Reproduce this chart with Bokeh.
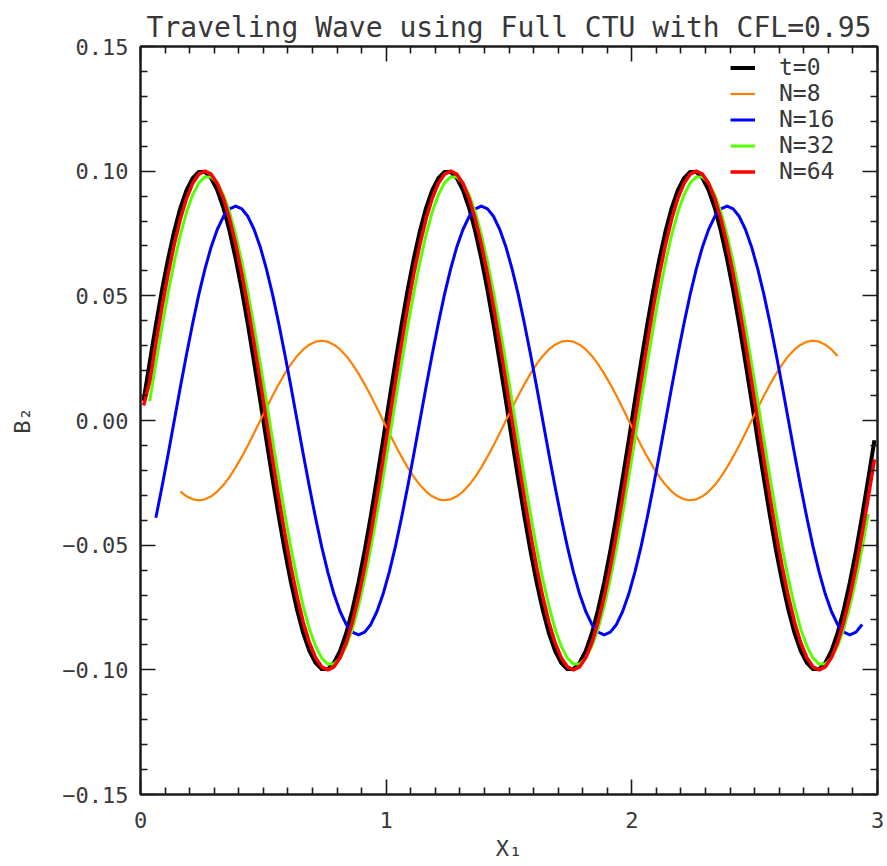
import numpy as np
from bokeh.plotting import figure
from bokeh.models import (Range1d, LinearAxis, FixedTicker, Legend, LegendItem,
                          ColumnDataSource, CustomJSTickFormatter)
from bokeh.embed import file_html
from bokeh.resources import INLINE

FONT = "DejaVu Sans Mono"

title_text = "Traveling Wave using Full CTU with CFL=0.95"
x_title = "X₁"
y_title = "B₂"
series_labels = ["t=0", "N=8", "N=16", "N=32", "N=64"]
series_colors = ["#000000", "#ff7f00", "#0000ff", "#55ff00", "#ff0000"]
x_tick_values = [0, 1, 2, 3]
x_tick_labels = ["0", "1", "2", "3"]
y_tick_values = [-0.15, -0.10, -0.05, 0.0, 0.05, 0.10, 0.15]
y_tick_labels = ["−0.15", "−0.10", "−0.05", "0.00", "0.05", "0.10", "0.15"]

# sample positions along X1
x1 = [
    0.0125, 0.0375, 0.0625, 0.0875, 0.1125, 0.1375, 0.1625, 0.1875,
    0.2125, 0.2375, 0.2625, 0.2875, 0.3125, 0.3375, 0.3625, 0.3875,
    0.4125, 0.4375, 0.4625, 0.4875, 0.5125, 0.5375, 0.5625, 0.5875,
    0.6125, 0.6375, 0.6625, 0.6875, 0.7125, 0.7375, 0.7625, 0.7875,
    0.8125, 0.8375, 0.8625, 0.8875, 0.9125, 0.9375, 0.9625, 0.9875,
    1.0125, 1.0375, 1.0625, 1.0875, 1.1125, 1.1375, 1.1625, 1.1875,
    1.2125, 1.2375, 1.2625, 1.2875, 1.3125, 1.3375, 1.3625, 1.3875,
    1.4125, 1.4375, 1.4625, 1.4875, 1.5125, 1.5375, 1.5625, 1.5875,
    1.6125, 1.6375, 1.6625, 1.6875, 1.7125, 1.7375, 1.7625, 1.7875,
    1.8125, 1.8375, 1.8625, 1.8875, 1.9125, 1.9375, 1.9625, 1.9875,
    2.0125, 2.0375, 2.0625, 2.0875, 2.1125, 2.1375, 2.1625, 2.1875,
    2.2125, 2.2375, 2.2625, 2.2875, 2.3125, 2.3375, 2.3625, 2.3875,
    2.4125, 2.4375, 2.4625, 2.4875, 2.5125, 2.5375, 2.5625, 2.5875,
    2.6125, 2.6375, 2.6625, 2.6875, 2.7125, 2.7375, 2.7625, 2.7875,
    2.8125, 2.8375, 2.8625, 2.8875, 2.9125, 2.9375, 2.9625, 2.9875,
]

# t=0 (black)
b2_t0 = [
    0.0079, 0.0233, 0.0383, 0.0523, 0.0649, 0.0760, 0.0853, 0.0924, 0.0972, 0.0997,
    0.0997, 0.0972, 0.0924, 0.0853, 0.0760, 0.0649, 0.0523, 0.0383, 0.0233, 0.0079,
    -0.0079, -0.0233, -0.0383, -0.0523, -0.0649, -0.0760, -0.0853, -0.0924, -0.0972, -0.0997,
    -0.0997, -0.0972, -0.0924, -0.0853, -0.0760, -0.0649, -0.0523, -0.0383, -0.0233, -0.0079,
    0.0079, 0.0233, 0.0383, 0.0523, 0.0649, 0.0760, 0.0853, 0.0924, 0.0972, 0.0997,
    0.0997, 0.0972, 0.0924, 0.0853, 0.0760, 0.0649, 0.0523, 0.0383, 0.0233, 0.0079,
    -0.0079, -0.0233, -0.0383, -0.0523, -0.0649, -0.0760, -0.0853, -0.0924, -0.0972, -0.0997,
    -0.0997, -0.0972, -0.0924, -0.0853, -0.0760, -0.0649, -0.0523, -0.0383, -0.0233, -0.0079,
    0.0079, 0.0233, 0.0383, 0.0523, 0.0649, 0.0760, 0.0853, 0.0924, 0.0972, 0.0997,
    0.0997, 0.0972, 0.0924, 0.0853, 0.0760, 0.0649, 0.0523, 0.0383, 0.0233, 0.0079,
    -0.0079, -0.0233, -0.0383, -0.0523, -0.0649, -0.0760, -0.0853, -0.0924, -0.0972, -0.0997,
    -0.0997, -0.0972, -0.0924, -0.0853, -0.0760, -0.0649, -0.0523, -0.0383, -0.0233, -0.0079,
]

# N=8 (orange)
b2_n8 = [
    None, None, None, None, None, None,
    -0.0285, -0.0304, -0.0316, -0.0320, -0.0316, -0.0304, -0.0285, -0.0259, -0.0226, -0.0188,
    -0.0145, -0.0099, -0.0050,
    0.0000, 0.0050, 0.0099, 0.0145, 0.0188, 0.0226, 0.0259, 0.0285, 0.0304, 0.0316,
    0.0320, 0.0316, 0.0304, 0.0285, 0.0259, 0.0226, 0.0188, 0.0145, 0.0099, 0.0050,
    0.0000, -0.0050, -0.0099, -0.0145, -0.0188, -0.0226, -0.0259, -0.0285, -0.0304, -0.0316,
    -0.0320, -0.0316, -0.0304, -0.0285, -0.0259, -0.0226, -0.0188, -0.0145, -0.0099, -0.0050,
    0.0000, 0.0050, 0.0099, 0.0145, 0.0188, 0.0226, 0.0259, 0.0285, 0.0304, 0.0316,
    0.0320, 0.0316, 0.0304, 0.0285, 0.0259, 0.0226, 0.0188, 0.0145, 0.0099, 0.0050,
    0.0000, -0.0050, -0.0099, -0.0145, -0.0188, -0.0226, -0.0259, -0.0285, -0.0304, -0.0316,
    -0.0320, -0.0316, -0.0304, -0.0285, -0.0259, -0.0226, -0.0188, -0.0145, -0.0099, -0.0050,
    0.0000, 0.0050, 0.0099, 0.0145, 0.0188, 0.0226, 0.0259, 0.0285, 0.0304, 0.0316,
    0.0320, 0.0316, 0.0304, 0.0285, 0.0259,
    None, None, None, None, None, None,
]

# N=16 (blue)
b2_n16 = [
    None, None, -0.0390, -0.0266, -0.0135,
    0.0000, 0.0135, 0.0266, 0.0390, 0.0506, 0.0608, 0.0696, 0.0766, 0.0818, 0.0849,
    0.0860, 0.0849, 0.0818, 0.0766, 0.0696, 0.0608, 0.0506, 0.0390, 0.0266, 0.0135,
    0.0000, -0.0135, -0.0266, -0.0390, -0.0506, -0.0608, -0.0696, -0.0766, -0.0818, -0.0849,
    -0.0860, -0.0849, -0.0818, -0.0766, -0.0696, -0.0608, -0.0506, -0.0390, -0.0266, -0.0135,
    0.0000, 0.0135, 0.0266, 0.0390, 0.0506, 0.0608, 0.0696, 0.0766, 0.0818, 0.0849,
    0.0860, 0.0849, 0.0818, 0.0766, 0.0696, 0.0608, 0.0506, 0.0390, 0.0266, 0.0135,
    0.0000, -0.0135, -0.0266, -0.0390, -0.0506, -0.0608, -0.0696, -0.0766, -0.0818, -0.0849,
    -0.0860, -0.0849, -0.0818, -0.0766, -0.0696, -0.0608, -0.0506, -0.0390, -0.0266, -0.0135,
    0.0000, 0.0135, 0.0266, 0.0390, 0.0506, 0.0608, 0.0696, 0.0766, 0.0818, 0.0849,
    0.0860, 0.0849, 0.0818, 0.0766, 0.0696, 0.0608, 0.0506, 0.0390, 0.0266, 0.0135,
    0.0000, -0.0135, -0.0266, -0.0390, -0.0506, -0.0608, -0.0696, -0.0766, -0.0818, -0.0849,
    -0.0860, -0.0849, -0.0818,
    None, None,
]

# N=32 (green)
b2_n32 = [
    None,
    0.0077, 0.0229, 0.0375, 0.0512, 0.0636, 0.0745, 0.0836, 0.0905, 0.0953, 0.0977,
    0.0977, 0.0953, 0.0905, 0.0836, 0.0745, 0.0636, 0.0512, 0.0375, 0.0229, 0.0077,
    -0.0077, -0.0229, -0.0375, -0.0512, -0.0636, -0.0745, -0.0836, -0.0905, -0.0953, -0.0977,
    -0.0977, -0.0953, -0.0905, -0.0836, -0.0745, -0.0636, -0.0512, -0.0375, -0.0229, -0.0077,
    0.0077, 0.0229, 0.0375, 0.0512, 0.0636, 0.0745, 0.0836, 0.0905, 0.0953, 0.0977,
    0.0977, 0.0953, 0.0905, 0.0836, 0.0745, 0.0636, 0.0512, 0.0375, 0.0229, 0.0077,
    -0.0077, -0.0229, -0.0375, -0.0512, -0.0636, -0.0745, -0.0836, -0.0905, -0.0953, -0.0977,
    -0.0977, -0.0953, -0.0905, -0.0836, -0.0745, -0.0636, -0.0512, -0.0375, -0.0229, -0.0077,
    0.0077, 0.0229, 0.0375, 0.0512, 0.0636, 0.0745, 0.0836, 0.0905, 0.0953, 0.0977,
    0.0977, 0.0953, 0.0905, 0.0836, 0.0745, 0.0636, 0.0512, 0.0375, 0.0229, 0.0077,
    -0.0077, -0.0229, -0.0375, -0.0512, -0.0636, -0.0745, -0.0836, -0.0905, -0.0953, -0.0977,
    -0.0977, -0.0953, -0.0905, -0.0836, -0.0745, -0.0636, -0.0512, -0.0375,
    None,
]

# N=64 (red)
b2_n64 = [
    0.0060, 0.0156, 0.0309, 0.0454, 0.0588, 0.0707, 0.0809, 0.0891, 0.0951, 0.0988,
    0.1000, 0.0988, 0.0951, 0.0891, 0.0809, 0.0707, 0.0588, 0.0454, 0.0309, 0.0156,
    0.0000, -0.0156, -0.0309, -0.0454, -0.0588, -0.0707, -0.0809, -0.0891, -0.0951, -0.0988,
    -0.1000, -0.0988, -0.0951, -0.0891, -0.0809, -0.0707, -0.0588, -0.0454, -0.0309, -0.0156,
    0.0000, 0.0156, 0.0309, 0.0454, 0.0588, 0.0707, 0.0809, 0.0891, 0.0951, 0.0988,
    0.1000, 0.0988, 0.0951, 0.0891, 0.0809, 0.0707, 0.0588, 0.0454, 0.0309, 0.0156,
    0.0000, -0.0156, -0.0309, -0.0454, -0.0588, -0.0707, -0.0809, -0.0891, -0.0951, -0.0988,
    -0.1000, -0.0988, -0.0951, -0.0891, -0.0809, -0.0707, -0.0588, -0.0454, -0.0309, -0.0156,
    0.0000, 0.0156, 0.0309, 0.0454, 0.0588, 0.0707, 0.0809, 0.0891, 0.0951, 0.0988,
    0.1000, 0.0988, 0.0951, 0.0891, 0.0809, 0.0707, 0.0588, 0.0454, 0.0309, 0.0156,
    0.0000, -0.0156, -0.0309, -0.0454, -0.0588, -0.0707, -0.0809, -0.0891, -0.0951, -0.0988,
    -0.1000, -0.0988, -0.0951, -0.0891, -0.0809, -0.0707, -0.0588, -0.0454, -0.0309, -0.0156,
]

series = [b2_t0, b2_n8, b2_n16, b2_n32, b2_n64]
widths = [4.0, 2.2, 3.0, 3.0, 3.5]

src = ColumnDataSource(dict(
    x=np.array(x1, dtype=float),
    **{f"s{i}": np.array(s, dtype=float) for i, s in enumerate(series)}
))

p = figure(width=887, height=866, output_backend="svg", toolbar_location=None,
           x_range=Range1d(0, 3), y_range=Range1d(-0.15, 0.15),
           x_axis_location=None, y_axis_location=None,
           min_border_left=140, min_border_right=10,
           min_border_top=46, min_border_bottom=72)
p.grid.visible = False
p.background_fill_color = "white"
p.border_fill_color = "white"
p.outline_line_color = "#1a1a1a"
p.outline_line_width = 2

TXT = "#383838"


def label_fmt(vals, labs):
    return CustomJSTickFormatter(args=dict(vals=vals, labs=labs), code="""
        for (let i = 0; i < vals.length; i++) {
            if (Math.abs(tick - vals[i]) < 1e-9) return labs[i];
        }
        return "";
    """)


x_minor = [i / 10 for i in range(31) if i % 10]
y_minor = [(-15 + i) / 100 for i in range(31) if i % 5]


def make_axis(major, minor, labels_on, vals=None, labs=None):
    ax = LinearAxis(ticker=FixedTicker(ticks=major, minor_ticks=minor))
    ax.axis_line_color = "#1a1a1a"
    ax.axis_line_width = 2
    ax.major_tick_line_color = "#1a1a1a"
    ax.minor_tick_line_color = "#1a1a1a"
    ax.major_tick_line_width = 1.6
    ax.minor_tick_line_width = 1.6
    ax.major_tick_in = 15
    ax.major_tick_out = 0
    ax.minor_tick_in = 7
    ax.minor_tick_out = 0
    if labels_on:
        ax.formatter = label_fmt(vals, labs)
        ax.major_label_text_font = FONT
        ax.major_label_text_font_size = "22px"
        ax.major_label_text_color = TXT
    else:
        ax.formatter = CustomJSTickFormatter(code="return ''")
        ax.major_label_text_font_size = "0px"
        ax.major_label_standoff = 0
    return ax


xb = make_axis(x_tick_values, x_minor, True, x_tick_values, x_tick_labels)
xb.major_label_standoff = 17
xb.axis_label = x_title
xb.axis_label_text_font = FONT
xb.axis_label_text_font_size = "22px"
xb.axis_label_text_font_style = "normal"
xb.axis_label_text_color = TXT
xb.axis_label_standoff = 5

yl = make_axis(y_tick_values, y_minor, True, y_tick_values, y_tick_labels)
yl.major_label_standoff = 12
yl.axis_label = y_title
yl.axis_label_text_font = FONT
yl.axis_label_text_font_size = "22px"
yl.axis_label_text_font_style = "normal"
yl.axis_label_text_color = TXT
yl.axis_label_standoff = 24

xt = make_axis(x_tick_values, x_minor, False)
yr = make_axis(y_tick_values, y_minor, False)

p.add_layout(xb, "below")
p.add_layout(yl, "left")
p.add_layout(xt, "above")
p.add_layout(yr, "right")

p.title.text = title_text
p.title.text_font = FONT
p.title.text_font_size = "28px"
p.title.text_font_style = "normal"
p.title.text_color = TXT
p.title.align = "center"
p.title.standoff = 6

items = []
for i, (lab, col, w) in enumerate(zip(series_labels, series_colors, widths)):
    r = p.line("x", f"s{i}", source=src, line_color=col, line_width=w,
               line_join="round")
    items.append(LegendItem(label=lab, renderers=[r]))

legend = Legend(items=items, location=(590, 610))
legend.border_line_alpha = 0
legend.background_fill_alpha = 0
legend.padding = 0
legend.margin = 0
legend.spacing = 0
legend.glyph_width = 25
legend.glyph_height = 25
legend.label_height = 25
legend.label_standoff = 24
legend.label_text_font = FONT
legend.label_text_font_size = "23px"
legend.label_text_color = TXT
p.add_layout(legend)

open("out.html", "w").write(file_html(p, INLINE))
